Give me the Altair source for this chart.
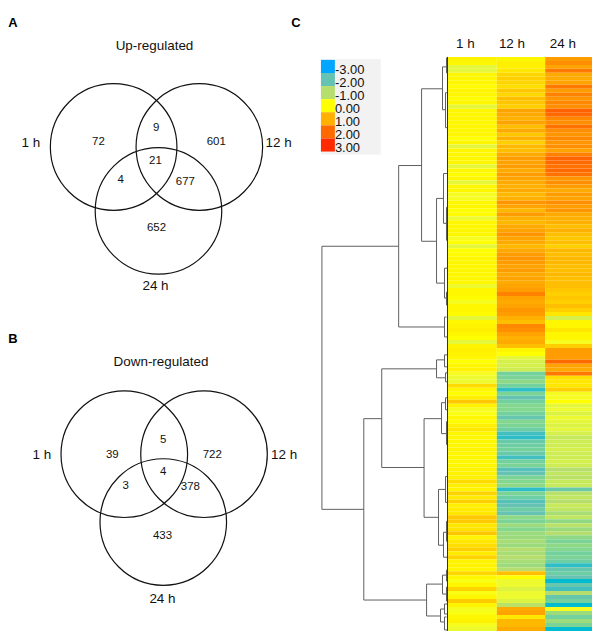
import altair as alt
import pandas as pd

# ---- heat map values (log2 ratio), one list per time point, top to bottom
hm_1h = [
 .15,.1,-.3,-.3,.1,.1,.1,.05,.1,.1,.05,.1,-.3,.1,.1,.1,.1,.1,.1,.1,0,.1,-.3,.1,
 .1,.1,.1,-.3,.1,.05,.1,-.3,.1,.1,-.1,-.1,.1,.1,0,.05,-.2,.1,.1,.1,.1,-.1,0,-.3,
 0,.05,.1,.1,.1,.1,.1,.1,.1,-.2,.1,.1,.05,-.1,.1,.1,.05,-.3,.1,.15,.2,.1,0,-.3,
 .15,.2,.15,.1,0,.1,.15,-.1,-.2,-.2,.45,.1,0,.2,.7,.15,-.1,-.05,.1,.05,.2,.3,.1,.1,
 .1,.1,.15,.1,.1,.1,.1,.15,.15,.2,.45,.2,.15,.55,.25,.6,.2,.25,.3,.7,.65,.3,.35,.7,
 .15,.3,.4,.6,.25,.55,.15,.15,.1,.5,.1,-.05,.1,.55,-.05,.1,.65,.15,-.1,-.05,.1,.15,-.1,-.2]
hm_12h = [
 .1,.2,.2,.3,.5,.6,.5,.4,.7,.5,.8,.7,.6,1.2,1.1,1.0,1.2,.8,1.1,.7,1.0,.6,.9,.8,
 1.1,1.3,1.2,1.3,1.1,1.3,1.2,1.1,1.0,1.1,.9,1.0,1.4,1.2,.9,1.3,1.0,.9,1.1,1.2,1.4,1.2,1.1,.9,
 1.1,1.3,1.4,1.3,1.2,1.3,1.1,1.2,1.1,1.2,1.3,1.7,1.2,1.1,1.2,1.4,1.3,1.0,.8,1.6,1.5,1.2,1.0,1.1,
 .8,.1,0,-.3,-.5,-.5,-.6,-1.6,-1.5,-1.3,-1.6,-2.3,-1.5,-2.0,-1.6,-1.4,-1.4,-1.6,-1.9,-1.4,-1.5,-1.7,-2.2,-2.3,
 -1.8,-1.7,-1.6,-1.8,-2.2,-1.6,-1.5,-2.1,-2.0,-1.5,-1.4,-1.3,-2.3,-1.5,-1.7,-2.1,-2.0,-1.7,-2.0,-1.3,-1.5,-1.2,-1.4,-1.2,
 -1.2,-1.1,-1.2,-1.0,-1.1,-1.0,-1.1,-1.2,-1.0,.8,0,-.2,-.2,-.4,-.2,-.2,-.4,-.9,1.1,1.2,.3,.9,.9,1.1]
hm_24h = [
 1.3,1.5,1.2,1.8,1.1,1.1,1.2,1.8,1.3,1.7,1.4,1.6,1.5,2.2,2.0,1.6,1.5,1.9,1.5,1.4,1.6,1.4,1.5,1.2,
 1.7,2.1,2.0,1.9,2.0,1.9,1.4,1.5,1.3,1.1,1.3,1.2,1.5,1.3,1.4,1.1,1.0,1.0,.8,1.0,.8,.7,.8,.6,
 .9,.8,.9,.9,.8,.8,.9,.8,.8,.8,.7,.6,.7,.6,.8,.6,.3,-.5,.1,.1,.3,.1,.1,-.1,
 .6,1.3,1.3,1.3,2.0,1.2,1.1,1.8,.4,.3,.3,.6,-.1,-.1,0,-.3,-.2,-.4,-.2,-.3,-.4,-.3,-.5,-.7,
 -.6,-.6,-.5,-.6,-.6,-.5,-.6,-1.0,-.8,-.9,-.7,-.7,-1.8,-.9,-.8,-1.0,-.7,-.8,-1.1,-.8,-1.3,-.9,-1.2,-1.0,
 -1.3,-1.5,-1.3,-1.4,-1.6,-1.5,-1.7,-2.3,-1.9,-1.7,-2.0,-2.4,-1.9,-2.2,-1.0,-1.9,-1.6,-2.4,-.1,-1.2,-1.6,-1.2,-1.5,-2.4]
hm_columns = [hm_1h, hm_12h, hm_24h]
hm_labels = ["1 h", "12 h", "24 h"]
legend_values = [-3, -2, -1, 0, 1, 2, 3]
legend_labels = ["-3.00", "-2.00", "-1.00", "0.00", "1.00", "2.00", "3.00"]
palette = ["#00a6ff", "#66c2b2", "#b6de6e", "#ffff00", "#ffb000", "#ff6a00", "#ff2a00"]

# ---- Venn counts
venn_a_labels = ["72", "9", "601", "21", "4", "677", "652"]
venn_b_labels = ["39", "5", "722", "4", "3", "378", "433"]

# ---- figure-unit geometry of the composite figure
X0, X1, Y0, Y1 = 8, 592, 8, 632
hm_edges = [447.5, 496.5, 545, 592]
hm_top, hm_row = 56, 4
venn_circles = [(112, 146.4), (198, 146.4), (157, 210.5),
                (122.7, 454.7), (202.7, 454.7), (161.8, 522.7)]
venn_d = 127

xs = alt.Scale(domain=[X0, X1], nice=False, zero=False, padding=0)
ys = alt.Scale(domain=[Y1, Y0], nice=False, zero=False, padding=0)
X = lambda f: alt.X(f, type="quantitative", scale=xs, axis=None)
Y = lambda f: alt.Y(f, type="quantitative", scale=ys, axis=None)
cscale = alt.Scale(domain=legend_values, range=palette)

# heat map cells
cells = []
for c, col in enumerate(hm_columns):
    for i, v in enumerate(col):
        cells.append(dict(x=hm_edges[c], x2=hm_edges[c + 1],
                          y=hm_top + i * hm_row, y2=hm_top + (i + 1) * hm_row, v=v))
heat = alt.Chart(pd.DataFrame(cells)).mark_rect(strokeWidth=0).encode(
    x=X("x"), x2="x2", y=Y("y"), y2="y2",
    color=alt.Color("v:Q", scale=cscale, legend=None))

# dendrogram: (merge x, child-a y, child-b y, x of child a, x of child b)
nodes = [
 (321, 246, 510, 398, 363),
 (398, 165, 327, 421, 444),
 (421, 88, 241, 442, 436),
 (442, 66, 109, 446, 445),
 (446, 57, 72, 447, 447),
 (445, 92, 127, 447, 447),
 (436, 198, 283, 443, 444),
 (443, 173, 223, 447, 446),
 (446, 207, 240, 447, 447),
 (444, 268, 298, 447, 446),
 (446, 292, 305, 447, 447),
 (444, 317, 337, 446, 447),
 (363, 419, 601, 381, 426),
 (381, 369, 468, 436, 423.5),
 (436, 360, 378, 444, 445),
 (444, 355, 367, 447, 447),
 (445, 373, 382, 447, 447),
 (423.5, 419, 518, 441, 438),
 (441, 403, 434, 445, 446),
 (445, 398, 410, 447, 447),
 (446, 422, 445, 447, 447),
 (438, 490, 546, 445, 443),
 (445, 477, 503, 447, 447),
 (443, 533, 558, 446, 447),
 (446, 522, 542, 447, 447),
 (426, 585, 617, 442, 440),
 (442, 576, 595, 446, 446),
 (446, 571, 582, 447, 447),
 (446, 588, 602, 447, 447),
 (440, 610, 623, 444, 444),
 (444, 605, 615, 447, 447),
 (444, 618, 631, 446, 447),
]
segs = []
for x, ya, yb, xa, xb in nodes:
    segs.append(dict(x=x, x2=x, y=ya, y2=yb))
    segs.append(dict(x=x, x2=xa, y=ya, y2=ya))
    segs.append(dict(x=x, x2=xb, y=yb, y2=yb))
dendro = alt.Chart(pd.DataFrame(segs)).mark_rule(color="#5f5f5f", strokeWidth=1).encode(
    x=X("x"), x2="x2", y=Y("y"), y2="y2")
axis_line = alt.Chart(pd.DataFrame([dict(x=447, x2=447, y=56, y2=632)])).mark_rule(
    color="#333333", strokeWidth=1).encode(x=X("x"), x2="x2", y=Y("y"), y2="y2")

# colour key
key_bg = alt.Chart(pd.DataFrame([dict(x=320, x2=380, y=58, y2=154)])).mark_rect(
    color="#f2f2f2").encode(x=X("x"), x2="x2", y=Y("y"), y2="y2")
step = 13.14
key = pd.DataFrame([dict(x=320, x2=334, y=59 + i * step, y2=59 + (i + 1) * step,
                         ty=69 + i * 13.15, tx=334, v=v, t=t)
                    for i, (v, t) in enumerate(zip(legend_values, legend_labels))])
key_sw = alt.Chart(key).mark_rect(strokeWidth=0).encode(
    x=X("x"), x2="x2", y=Y("y"), y2="y2",
    color=alt.Color("v:Q", scale=cscale, legend=None))
key_tx = alt.Chart(key).mark_text(align="left", baseline="middle", font="Liberation Sans",
                                  fontSize=13, color="#111111").encode(
    x=X("tx"), y=Y("ty"), text="t:N")

# Venn circles
circles = alt.Chart(pd.DataFrame(venn_circles, columns=["x", "y"])).mark_point(
    shape="circle", filled=False, size=venn_d ** 2, color="#111111", strokeWidth=1.2,
    opacity=1).encode(x=X("x"), y=Y("y"))

# text
labels = []
def add(t, x, y, fs, w="normal"):
    labels.append(dict(t=t, x=x, y=y, fs=fs, w=w))
for t, (x, y) in zip(venn_a_labels, [(96.7, 141), (154.7, 127), (215, 141), (154, 160),
                                     (119, 180), (184, 182), (155, 228)]):
    add(t, x, y, 11.5)
for t, (x, y) in zip(venn_b_labels, [(110.7, 455), (161.7, 440), (211, 455), (161.7, 473),
                                     (124, 487), (189, 488), (161, 537)]):
    add(t, x, y, 11.5)
add("Up-regulated", 153, 45, 13.5)
add("Down-regulated", 159.5, 362, 13.5)
add("1 h", 29, 142, 13.5); add("12 h", 277.5, 142, 13.5); add("24 h", 154, 286, 13.5)
add("1 h", 40, 455, 13.5); add("12 h", 283, 455, 13.5); add("24 h", 161, 600, 13.5)
for t, x in zip(hm_labels, [465, 511.7, 562.7]):
    add(t, x, 43, 13.5)
add("A", 11, 21.5, 13, "bold"); add("B", 11, 339, 13, "bold"); add("C", 295, 21.5, 13, "bold")
tdf = pd.DataFrame(labels)
txt_n = alt.Chart(tdf[tdf.w == "normal"]).mark_text(
    align="center", baseline="middle", font="Liberation Sans", color="#111111").encode(
    x=X("x"), y=Y("y"), text="t:N", size=alt.Size("fs:Q", scale=None, legend=None))
txt_b = alt.Chart(tdf[tdf.w == "bold"]).mark_text(
    align="center", baseline="middle", font="Liberation Sans", fontWeight="bold",
    color="#000000").encode(
    x=X("x"), y=Y("y"), text="t:N", size=alt.Size("fs:Q", scale=None, legend=None))

chart = alt.layer(key_bg, heat, dendro, axis_line, key_sw, key_tx, circles, txt_n, txt_b).properties(
    width=X1 - X0, height=Y1 - Y0, padding=0, background="white"
).configure_view(strokeWidth=0)
chart.save("out.html", embed_options={"renderer": "svg", "actions": False})
